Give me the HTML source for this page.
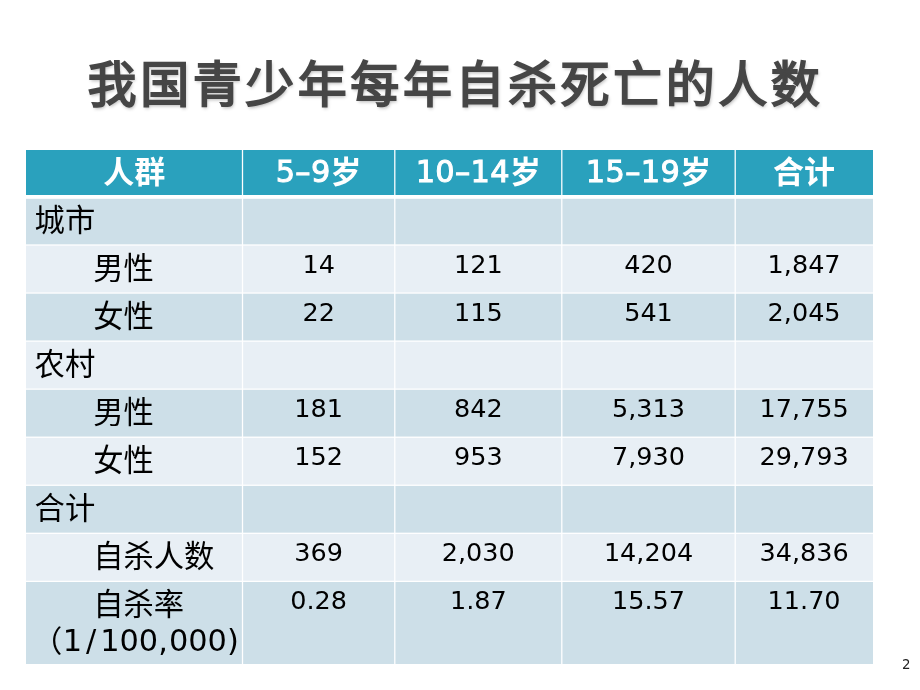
<!DOCTYPE html>
<html lang="zh-CN"><head><meta charset="utf-8"><title>我国青少年每年自杀死亡的人数</title>
<style>
html,body{margin:0;padding:0;background:#fff;}
body{width:920px;height:690px;overflow:hidden;position:relative;font-family:"DejaVu Sans","Liberation Sans","Noto Sans CJK SC",sans-serif;color:#000;}
.abs{position:absolute;}
.t{position:absolute;white-space:nowrap;line-height:1;}
.title{font-family:"Liberation Sans","Noto Sans CJK SC",sans-serif;font-weight:400;color:#464646;font-size:49px;letter-spacing:3.55px;left:87.6px;top:61.2px;text-shadow:1px 2px 3.5px rgba(0,0,0,.3);-webkit-text-stroke:1.9px #464646;}
.h{color:#fff;font-weight:700;font-size:31px;text-align:center;font-family:"Liberation Sans","Noto Sans CJK SC",sans-serif;}
.h b{font-family:"DejaVu Sans","Liberation Sans",sans-serif;font-weight:400;font-size:30.4px;-webkit-text-stroke:1px #fff;letter-spacing:0.35px;position:relative;top:-0.8px;line-height:0;}
.c{font-family:"Liberation Sans","Noto Sans CJK SC",sans-serif;font-size:30.3px;}
.n{font-size:25.5px;text-align:center;}
.d{font-size:30.4px;}
.d i{font-style:normal;margin-left:3.9px;margin-right:3.9px;}
.d u{text-decoration:none;margin-right:1.1px;}
.pg{font-size:13.4px;color:#222;}
</style></head><body>

<div class="abs" style="left:26.2px;top:149.5px;width:846.8px;height:47.40px;background:#2aa1bd"></div>
<div class="abs" style="left:26.2px;top:196.9px;width:846.8px;height:48.10px;background:#cddfe8"></div>
<div class="abs" style="left:26.2px;top:245.0px;width:846.8px;height:48.05px;background:#e8eff5"></div>
<div class="abs" style="left:26.2px;top:293.05px;width:846.8px;height:48.05px;background:#cddfe8"></div>
<div class="abs" style="left:26.2px;top:341.1px;width:846.8px;height:48.05px;background:#e8eff5"></div>
<div class="abs" style="left:26.2px;top:389.15px;width:846.8px;height:48.05px;background:#cddfe8"></div>
<div class="abs" style="left:26.2px;top:437.2px;width:846.8px;height:48.05px;background:#e8eff5"></div>
<div class="abs" style="left:26.2px;top:485.25px;width:846.8px;height:48.05px;background:#cddfe8"></div>
<div class="abs" style="left:26.2px;top:533.3px;width:846.8px;height:48.05px;background:#e8eff5"></div>
<div class="abs" style="left:26.2px;top:581.35px;width:846.8px;height:82.35px;background:#cddfe8"></div>
<div class="abs" style="left:26px;top:195px;width:847px;height:1px;background:rgba(255,255,255,1)"></div>
<div class="abs" style="left:26px;top:196px;width:847px;height:1px;background:rgba(255,255,255,1)"></div>
<div class="abs" style="left:26px;top:197px;width:847px;height:1px;background:rgba(255,255,255,1)"></div>
<div class="abs" style="left:26px;top:198px;width:847px;height:1px;background:rgba(255,255,255,0.81)"></div>
<div class="abs" style="left:26px;top:244px;width:847px;height:1px;background:rgba(255,255,255,0.64)"></div>
<div class="abs" style="left:26px;top:245px;width:847px;height:1px;background:rgba(255,255,255,0.64)"></div>
<div class="abs" style="left:26px;top:292px;width:847px;height:1px;background:rgba(255,255,255,0.59)"></div>
<div class="abs" style="left:26px;top:293px;width:847px;height:1px;background:rgba(255,255,255,0.69)"></div>
<div class="abs" style="left:26px;top:340px;width:847px;height:1px;background:rgba(255,255,255,0.54)"></div>
<div class="abs" style="left:26px;top:341px;width:847px;height:1px;background:rgba(255,255,255,0.74)"></div>
<div class="abs" style="left:26px;top:388px;width:847px;height:1px;background:rgba(255,255,255,0.49)"></div>
<div class="abs" style="left:26px;top:389px;width:847px;height:1px;background:rgba(255,255,255,0.79)"></div>
<div class="abs" style="left:26px;top:436px;width:847px;height:1px;background:rgba(255,255,255,0.44)"></div>
<div class="abs" style="left:26px;top:437px;width:847px;height:1px;background:rgba(255,255,255,0.84)"></div>
<div class="abs" style="left:26px;top:484px;width:847px;height:1px;background:rgba(255,255,255,0.39)"></div>
<div class="abs" style="left:26px;top:485px;width:847px;height:1px;background:rgba(255,255,255,0.89)"></div>
<div class="abs" style="left:26px;top:532px;width:847px;height:1px;background:rgba(255,255,255,0.34)"></div>
<div class="abs" style="left:26px;top:533px;width:847px;height:1px;background:rgba(255,255,255,0.94)"></div>
<div class="abs" style="left:26px;top:580px;width:847px;height:1px;background:rgba(255,255,255,0.29)"></div>
<div class="abs" style="left:26px;top:581px;width:847px;height:1px;background:rgba(255,255,255,0.99)"></div>
<div class="abs" style="left:241px;top:150px;width:1px;height:514px;background:rgba(255,255,255,0.14)"></div>
<div class="abs" style="left:242px;top:150px;width:1px;height:514px;background:rgba(255,255,255,1)"></div>
<div class="abs" style="left:243px;top:150px;width:1px;height:514px;background:rgba(255,255,255,0.14)"></div>
<div class="abs" style="left:394px;top:150px;width:1px;height:514px;background:rgba(255,255,255,0.84)"></div>
<div class="abs" style="left:395px;top:150px;width:1px;height:514px;background:rgba(255,255,255,0.44)"></div>
<div class="abs" style="left:561px;top:150px;width:1px;height:514px;background:rgba(255,255,255,0.84)"></div>
<div class="abs" style="left:562px;top:150px;width:1px;height:514px;background:rgba(255,255,255,0.44)"></div>
<div class="abs" style="left:734px;top:150px;width:1px;height:514px;background:rgba(255,255,255,0.44)"></div>
<div class="abs" style="left:735px;top:150px;width:1px;height:514px;background:rgba(255,255,255,0.84)"></div>
<div class="t title">我国青少年每年自杀死亡的人数</div>
<div class="t h" style="left:26.2px;width:216.3px;top:157px">人群</div>
<div class="t h" style="left:242.5px;width:152.3px;top:157px"><b>5–9</b>岁</div>
<div class="t h" style="left:394.8px;width:167.0px;top:157px"><b>10–14</b>岁</div>
<div class="t h" style="left:561.8px;width:173.4px;top:157px"><b>15–19</b>岁</div>
<div class="t h" style="left:735.2px;width:137.8px;top:157px">合计</div>
<div class="t c" style="left:34.6px;top:205.8px">城市</div>
<div class="t c" style="left:93.2px;top:253.9px">男性</div>
<div class="t c" style="left:93.2px;top:301.9px">女性</div>
<div class="t c" style="left:34.6px;top:350.0px">农村</div>
<div class="t c" style="left:93.2px;top:398.0px">男性</div>
<div class="t c" style="left:93.2px;top:446.1px">女性</div>
<div class="t c" style="left:34.6px;top:494.1px">合计</div>
<div class="t c" style="left:93.2px;top:542.2px">自杀人数</div>
<div class="t c" style="left:93.2px;top:590.2px">自杀率</div>
<div class="t c" style="left:32px;top:626.9px">（</div>
<div class="t d" style="left:62.75px;top:626.4px">1<i>/</i>100<u>,</u>000)</div>
<div class="t n" style="left:242.5px;width:152.3px;top:251.5px">14</div>
<div class="t n" style="left:394.8px;width:167.0px;top:251.5px">121</div>
<div class="t n" style="left:561.8px;width:173.4px;top:251.5px">420</div>
<div class="t n" style="left:735.2px;width:137.8px;top:251.5px">1,847</div>
<div class="t n" style="left:242.5px;width:152.3px;top:299.6px">22</div>
<div class="t n" style="left:394.8px;width:167.0px;top:299.6px">115</div>
<div class="t n" style="left:561.8px;width:173.4px;top:299.6px">541</div>
<div class="t n" style="left:735.2px;width:137.8px;top:299.6px">2,045</div>
<div class="t n" style="left:242.5px;width:152.3px;top:395.6px">181</div>
<div class="t n" style="left:394.8px;width:167.0px;top:395.6px">842</div>
<div class="t n" style="left:561.8px;width:173.4px;top:395.6px">5,313</div>
<div class="t n" style="left:735.2px;width:137.8px;top:395.6px">17,755</div>
<div class="t n" style="left:242.5px;width:152.3px;top:443.7px">152</div>
<div class="t n" style="left:394.8px;width:167.0px;top:443.7px">953</div>
<div class="t n" style="left:561.8px;width:173.4px;top:443.7px">7,930</div>
<div class="t n" style="left:735.2px;width:137.8px;top:443.7px">29,793</div>
<div class="t n" style="left:242.5px;width:152.3px;top:539.8px">369</div>
<div class="t n" style="left:394.8px;width:167.0px;top:539.8px">2,030</div>
<div class="t n" style="left:561.8px;width:173.4px;top:539.8px">14,204</div>
<div class="t n" style="left:735.2px;width:137.8px;top:539.8px">34,836</div>
<div class="t n" style="left:242.5px;width:152.3px;top:587.9px">0.28</div>
<div class="t n" style="left:394.8px;width:167.0px;top:587.9px">1.87</div>
<div class="t n" style="left:561.8px;width:173.4px;top:587.9px">15.57</div>
<div class="t n" style="left:735.2px;width:137.8px;top:587.9px">11.70</div>
<div class="t pg" style="left:902px;top:658px">2</div>
</body></html>
